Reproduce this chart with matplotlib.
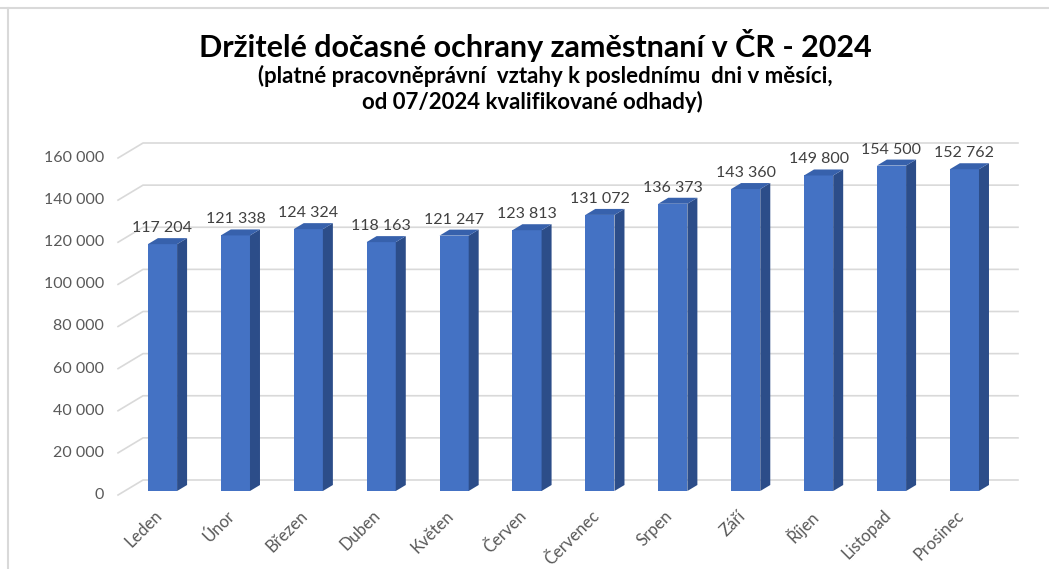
import numpy as np
import matplotlib
matplotlib.use('Agg')
import matplotlib.pyplot as plt
from matplotlib.patches import Polygon
from matplotlib.lines import Line2D

plt.rcParams['font.family'] = ['Lato', 'DejaVu Sans']

# data
mesice = ['Leden', 'Únor', 'Březen', 'Duben', 'Květen', 'Červen',
          'Červenec', 'Srpen', 'Září', 'Říjen', 'Listopad', 'Prosinec']
zamestnani = [117204, 121338, 124324, 118163, 121247, 123813,
              131072, 136373, 143360, 149800, 154500, 152762]
y_ticks = [0, 20000, 40000, 60000, 80000, 100000, 120000, 140000, 160000]

title = 'Držitelé dočasné ochrany zaměstnaní v ČR - 2024'
sub1 = '(platné pracovněprávní  vztahy k poslednímu  dni v měsíci,'
sub2 = 'od 07/2024 kvalifikované odhady)'

W, H = 1049, 569
fig = plt.figure(figsize=(W / 100, H / 100), dpi=100)

# axes placed so that one category = ~73 px, value scale 337 px per 160 000
xlim = (-1.5, 11.9)
ylim = (-30000, 180000)
ppx = 72.9
ppy = 337 / 160000
ax_l = 162.5 - (0 - xlim[0]) * ppx
ax_b = 78 + ylim[0] * ppy
ax_w = (xlim[1] - xlim[0]) * ppx
ax_h = (ylim[1] - ylim[0]) * ppy
ax = fig.add_axes([ax_l / W, ax_b / H, ax_w / W, ax_h / H])
ax.set_xlim(*xlim)
ax.set_ylim(*ylim)
ax.axis('off')

def px2x(p):
    return p / ppx

def px2y(p):
    return p / ppy

# pseudo 3D gridlines: front edge -> back wall -> right
grid_c = '#D9D9D9'
x_front = -0.61
x_back = x_front + px2x(25)
x_right = 11.735
for v in y_ticks:
    yf = v - px2y(4)
    yb = v + px2y(11)
    ax.plot([x_front, x_back, x_right], [yf, yb, yb], color=grid_c, lw=1.2, zorder=1)
    ax.text(x_front - px2x(14), yf, f'{v:,}'.replace(',', ' '), ha='right', va='center',
            fontsize=11.5, color='#595959')

# bars with side and top faces
x = np.arange(len(mesice))
bw = 0.4
dx, dy = px2x(10), px2y(6)
ax.bar(x, zamestnani, width=bw, color='#4472C4', zorder=3)
for xi, v in zip(x, zamestnani):
    r = xi + bw / 2
    l = xi - bw / 2
    side = Polygon([[r, 0], [r + dx, dy], [r + dx, v + dy], [r, v]],
                   closed=True, facecolor='#2C4D89', edgecolor='none', zorder=3)
    top = Polygon([[l, v], [r, v], [r + dx, v + dy], [l + dx, v + dy]],
                  closed=True, facecolor='#3761AC', edgecolor='none', zorder=3)
    ax.add_patch(side)
    ax.add_patch(top)
    ax.text(xi, v + px2y(12), f'{v:,}'.replace(',', ' '), ha='center', va='baseline',
            fontsize=11.5, color='#404040', zorder=4)

for xi, m in zip(x, mesice):
    ax.text(xi - px2x(3), -px2y(22), m, rotation=45, rotation_mode='anchor',
            ha='right', va='center', fontsize=12, color='#595959')

fig.text(535.5 / W, 1 - 45 / H, title, ha='center', va='center',
         fontsize=22, fontweight='bold', color='black')
fig.text(545 / W, 1 - 76 / H, sub1, ha='center', va='center',
         fontsize=16, fontweight='bold', color='black')
fig.text(532 / W, 1 - 102 / H, sub2, ha='center', va='center',
         fontsize=16, fontweight='bold', color='black')

# frame of the chart area (top and left edges visible)
fig.add_artist(Line2D([0, 1], [1 - 8 / H, 1 - 8 / H], color='#D9D9D9', lw=1.5))
fig.add_artist(Line2D([8 / W, 8 / W], [0, 1 - 8 / H], color='#D9D9D9', lw=1.5))

fig.savefig('out.png', dpi=100)
